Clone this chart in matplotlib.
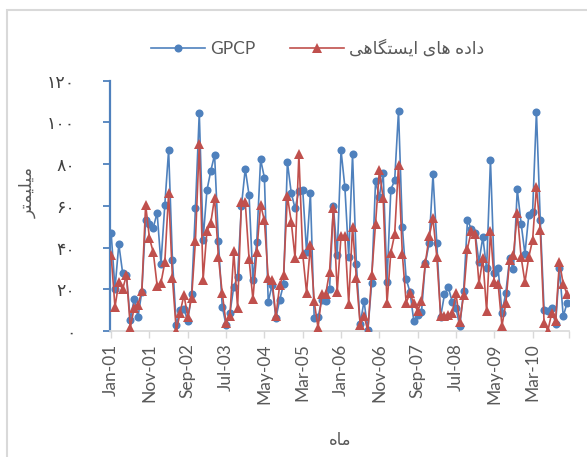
import matplotlib
matplotlib.use("Agg")
import matplotlib.pyplot as plt
from matplotlib.patches import Rectangle

plt.rcParams['font.family'] = ['Lato', 'DejaVu Sans']

# Monthly precipitation (mm), Jan-2001 .. Dec-2010
gpcp = [
    47, 20.3, 41.6, 27.8, 26.7, 5.1, 15.5, 6.7, 18.7, 53,
    51.5, 49.6, 56.6, 32.3, 60.3, 86.7, 33.9, 2.7, 10, 10.5,
    4.8, 17.7, 59, 104.5, 43.8, 67.4, 76.7, 84.4, 43, 11.6,
    2.8, 8.5, 21.2, 26, 59.9, 77.7, 65, 24.3, 42.8, 82.2,
    73.5, 14, 22, 6.2, 15, 22.4, 81, 66.2, 58.8, 67,
    67.7, 38, 66, 6.2, 6.5, 15, 14.2, 20, 59.7, 36.6,
    86.6, 69, 35.5, 84.6, 32.2, 3.2, 14.4, 0.4, 23, 71.7,
    64.4, 75.8, 23.6, 67.8, 72.2, 105.5, 50, 25, 18.6, 4.7,
    7.5, 9, 32.5, 42, 75, 42, 6.9, 17.5, 21, 14,
    11, 2.2, 19.4, 53, 49, 47, 33, 45, 30, 82,
    28, 30.2, 8.8, 18.1, 34.8, 29.5, 67.9, 51.5, 37, 55.5,
    57, 105, 53, 10, 9.8, 10.9, 3.3, 30.1, 7, 13.5,
]
station = [
    36.2, 11.5, 23.3, 20, 26.8, 1.6, 11.1, 12.4, 19, 60.5,
    44.5, 37.7, 21.7, 23, 32.9, 66.1, 25.2, 0, 8.8, 17.3,
    6.9, 16, 43.3, 89.6, 24.6, 47.8, 51.8, 63.9, 35.3, 18,
    3.6, 7.2, 38.2, 10.9, 62, 61.7, 34.5, 15.2, 37.8, 60.5,
    53, 25.2, 24.5, 7, 22.2, 26.7, 64.6, 52.4, 35, 84.6,
    36.8, 18.4, 41.2, 14.2, 1.5, 17.6, 17.6, 28.4, 58.8, 18.6,
    45.6, 45.3, 13, 50, 25.4, 2.8, 7.4, 0, 26.8, 51.3,
    77, 63.5, 13.2, 37.5, 46.4, 79.7, 36.8, 13.6, 18, 13.2,
    9.6, 14.2, 32.5, 45.3, 54, 35.4, 7.2, 7.2, 7.5, 8.5,
    18, 4.3, 17.4, 39.5, 48, 46.4, 22.6, 34.8, 9.4, 48,
    23.6, 22.6, 2.4, 13.2, 34, 36.4, 56.5, 35.4, 23.4, 35.4,
    43.6, 69.1, 48.4, 4, 0.2, 8.8, 5, 33.2, 22.4, 17.7,
]
x_tick_labels = ["Jan-01", "Nov-01", "Sep-02", "Jul-03", "May-04", "Mar-05",
                 "Jan-06", "Nov-06", "Sep-07", "Jul-08", "May-09", "Mar-10"]
y_ticks = [0, 20, 40, 60, 80, 100, 120]
y_tick_labels = ["۰", "۲۰", "۴۰", "۶۰", "۸۰", "۱۰۰", "۱۲۰"]

series_gpcp = "GPCP"
series_station = "داده های ایستگاهی"
y_title = "میلیمتر"
x_title = "ماه"

# --- minimal Persian shaping (contextual forms + right-to-left order) ---
FORMS = {  # iso, fin, ini, med ; None for right-joining letters
    'ا': ('\uFE8D', '\uFE8E', None, None),
    'د': ('\uFEA9', '\uFEAA', None, None),
    'ر': ('\uFEAD', '\uFEAE', None, None),
    'ه': ('\uFEE9', '\uFEEA', '\uFEEB', '\uFEEC'),
    'ی': ('\uFBFC', '\uFBFD', '\uFBFE', '\uFBFF'),
    'س': ('\uFEB1', '\uFEB2', '\uFEB3', '\uFEB4'),
    'ت': ('\uFE95', '\uFE96', '\uFE97', '\uFE98'),
    'گ': ('\uFB92', '\uFB93', '\uFB94', '\uFB95'),
    'م': ('\uFEE1', '\uFEE2', '\uFEE3', '\uFEE4'),
    'ل': ('\uFEDD', '\uFEDE', '\uFEDF', '\uFEE0'),
}


def shape(text):
    out = []
    n = len(text)
    for k, ch in enumerate(text):
        if ch not in FORMS:
            out.append(ch)
            continue
        prev = text[k - 1] if k > 0 else None
        nxt = text[k + 1] if k < n - 1 else None
        dual = FORMS[ch][2] is not None
        j_prev = prev in FORMS and FORMS[prev][2] is not None
        j_next = dual and nxt in FORMS
        iso, fin, ini, med = FORMS[ch]
        if j_prev and j_next:
            out.append(med)
        elif j_prev:
            out.append(fin)
        elif j_next:
            out.append(ini)
        else:
            out.append(iso)
    return ''.join(reversed(out))


BLUE = '#4F81BD'
RED = '#C0504D'
GRAY = '#595959'

fig = plt.figure(figsize=(5.87, 4.57), dpi=100)
fig.patches.append(Rectangle((7 / 587, -0.05), 1.2, 1.05 - 10 / 457,
                             transform=fig.transFigure, fill=False,
                             edgecolor='#D9D9D9', linewidth=1.5))

ax = fig.add_axes([110 / 587, 126 / 457, 459 / 587, 250.4 / 457])
months = list(range(len(gpcp)))

ax.plot(months, gpcp, color=BLUE, linewidth=1.2, marker='o', markersize=5.8,
        markeredgewidth=0, label=series_gpcp, zorder=3)
ax.plot(months, station, color=RED, linewidth=1.2, marker='^', markersize=6.8,
        markeredgewidth=0, label=shape(series_station), zorder=4)

ax.set_xlim(-0.3, 119.5)
ax.set_ylim(0, 120)

ax.set_xticks(list(range(0, 120, 10)))
ax.set_xticklabels(x_tick_labels, rotation=90, fontsize=12.5, color=GRAY)
ax.set_xticks([119.5], minor=True)
ax.tick_params(axis='x', which='both', direction='out', length=5,
               color='#D9D9D9', width=1, pad=4)

ax.set_yticks(y_ticks)
ax.set_yticklabels(y_tick_labels, fontsize=12.5, color='#404040',
                   family=['DejaVu Sans'])
ax.tick_params(axis='y', direction='out', length=5, color=BLUE, width=1.3,
               pad=20)

for s in ('top', 'right'):
    ax.spines[s].set_visible(False)
ax.spines['bottom'].set_color('#D9D9D9')
ax.spines['bottom'].set_linewidth(1.2)
ax.spines['left'].set_color(BLUE)
ax.spines['left'].set_linewidth(1.6)

fig.text(28 / 587, 1 - 192 / 457, shape(y_title), rotation=90, ha='center',
         va='center', fontsize=12.5, color=GRAY, family=['DejaVu Sans'])
fig.text(340 / 587, 1 - 440 / 457, shape(x_title), ha='center', va='center',
         fontsize=12, color=GRAY, family=['DejaVu Sans'])

fig.legend(loc='center', bbox_to_anchor=(318 / 587, 1 - 48 / 457), ncol=2,
           frameon=False, fontsize=12.5, handlelength=3.1, handletextpad=0.3,
           columnspacing=2.0, labelcolor=GRAY)

fig.savefig('out.png', dpi=100)
